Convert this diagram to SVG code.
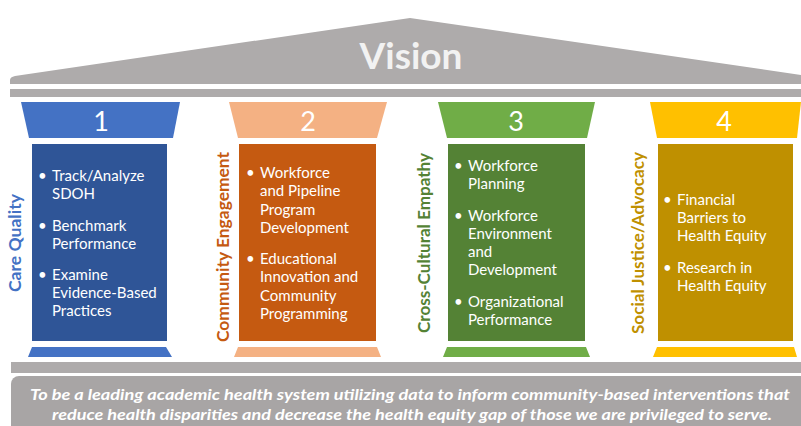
<svg xmlns="http://www.w3.org/2000/svg" width="801" height="426" viewBox="0 0 801 426">
<style>
.gray{fill:#AEABAB}
.num{font-family:Lato,"Open Sans",sans-serif;font-size:27px;fill:#FFFFFF;text-anchor:middle}
.item{font-family:Lato,"Open Sans",sans-serif;font-size:15px;fill:#FFFFFF}
.side{font-family:Lato,"Open Sans",sans-serif;font-size:17px;font-weight:bold;text-anchor:middle}
.mission{font-family:Lato,"Open Sans",sans-serif;font-size:16px;font-weight:bold;font-style:italic;fill:#FFFFFF;text-anchor:middle}
</style>
<rect width="801" height="426" fill="#FFFFFF"/>
<g id="roof">
<path class="gray" d="M10,84 L10,80 Q10,77 15,76 L410,18 L801,75 L801,84 Z"/>
<rect class="gray" x="10" y="89" width="791" height="8"/>
<text x="411" y="69" font-family="Lato,'Open Sans',sans-serif" font-size="37" font-weight="bold" fill="#F2F2F2" text-anchor="middle">Vision</text>
</g>
<g id="pillar1">
<polygon points="21,102 180,102 173,138 29,138" fill="#4472C4"/>
<text class="num" x="101" y="131">1</text>
<rect x="32" y="144" width="135" height="197" fill="#2F5597"/>
<polygon points="32,347 166,347 172,357 28,357" fill="#4472C4"/>
<text class="side" fill="#4472C4" transform="translate(21,243) rotate(-90)" textLength="98" lengthAdjust="spacingAndGlyphs">Care Quality</text>
<text class="item"><tspan x="38" y="181">•</tspan><tspan x="52" y="181">Track/Analyze</tspan><tspan x="52" y="199">SDOH</tspan><tspan x="38" y="231">•</tspan><tspan x="52" y="231">Benchmark</tspan><tspan x="52" y="249">Performance</tspan><tspan x="38" y="280">•</tspan><tspan x="52" y="280">Examine</tspan><tspan x="52" y="298">Evidence-Based</tspan><tspan x="52" y="316">Practices</tspan></text>
</g>
<g id="pillar2">
<polygon points="229,102 387,102 377,138 238,138" fill="#F4B183"/>
<text class="num" x="308" y="131">2</text>
<rect x="239" y="144" width="137" height="197" fill="#C55A11"/>
<polygon points="238,347 377,347 381,357 234,357" fill="#F4B183"/>
<text class="side" fill="#C55A11" transform="translate(229,247) rotate(-90)" textLength="190" lengthAdjust="spacingAndGlyphs">Community Engagement</text>
<text class="item"><tspan x="246" y="178">•</tspan><tspan x="260" y="178">Workforce</tspan><tspan x="260" y="196">and Pipeline</tspan><tspan x="260" y="215">Program</tspan><tspan x="260" y="233">Development</tspan><tspan x="246" y="264">•</tspan><tspan x="260" y="264">Educational</tspan><tspan x="260" y="282">Innovation and</tspan><tspan x="260" y="301">Community</tspan><tspan x="260" y="319">Programming</tspan></text>
</g>
<g id="pillar3">
<polygon points="438,102 595,102 587,138 447,138" fill="#70AD47"/>
<text class="num" x="516" y="131">3</text>
<rect x="448" y="144" width="137" height="197" fill="#548235"/>
<polygon points="447,347 586,347 590,357 443,357" fill="#70AD47"/>
<text class="side" fill="#548235" transform="translate(430,243) rotate(-90)" textLength="180" lengthAdjust="spacingAndGlyphs">Cross-Cultural Empathy</text>
<text class="item"><tspan x="454" y="171">•</tspan><tspan x="468" y="171">Workforce</tspan><tspan x="468" y="189">Planning</tspan><tspan x="454" y="221">•</tspan><tspan x="468" y="221">Workforce</tspan><tspan x="468" y="239">Environment</tspan><tspan x="468" y="257">and</tspan><tspan x="468" y="275">Development</tspan><tspan x="454" y="307">•</tspan><tspan x="468" y="307">Organizational</tspan><tspan x="468" y="325">Performance</tspan></text>
</g>
<g id="pillar4">
<polygon points="650,102 801,102 797,138 657,138" fill="#FFC000"/>
<text class="num" x="724" y="131">4</text>
<rect x="658" y="144" width="135" height="197" fill="#BF9000"/>
<polygon points="657,347 794,347 797,357 653,357" fill="#FFC000"/>
<text class="side" fill="#BF9000" transform="translate(644,243) rotate(-90)" textLength="182" lengthAdjust="spacingAndGlyphs">Social Justice/Advocacy</text>
<text class="item"><tspan x="663" y="205">•</tspan><tspan x="677" y="205">Financial</tspan><tspan x="677" y="223">Barriers to</tspan><tspan x="677" y="241">Health Equity</tspan><tspan x="663" y="273">•</tspan><tspan x="677" y="273">Research in</tspan><tspan x="677" y="291">Health Equity</tspan></text>
</g>
<g id="foundation">
<rect class="gray" x="11" y="362" width="790" height="11"/>
<rect x="11" y="376" width="800" height="60" rx="8" fill="#A8A5A5"/>
<text class="mission"><tspan x="410" y="400" textLength="760" lengthAdjust="spacingAndGlyphs">To be a leading academic health system utilizing data to inform community-based interventions that</tspan><tspan x="412" y="420" textLength="720" lengthAdjust="spacingAndGlyphs">reduce health disparities and decrease the health equity gap of those we are privileged to serve.</tspan></text>
</g>
</svg>
